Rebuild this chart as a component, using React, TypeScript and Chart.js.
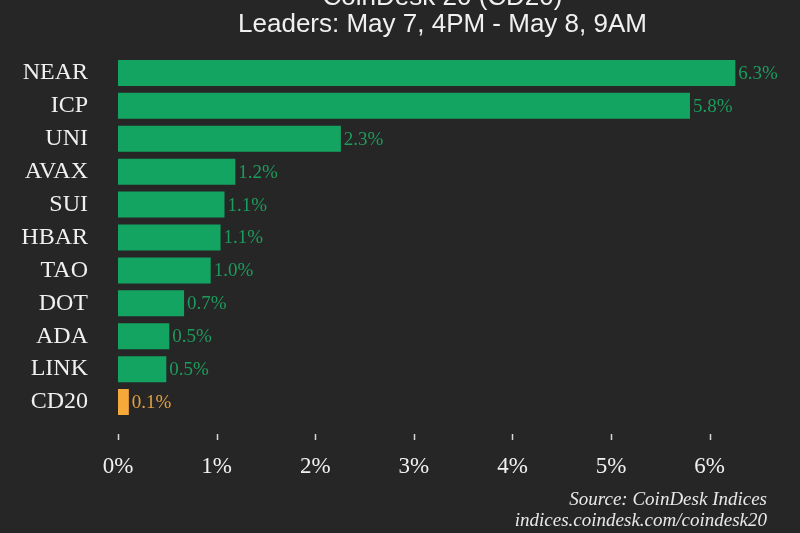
import React, { useEffect, useRef } from "react";
import { Chart, registerables } from "chart.js";

Chart.register(...registerables);

const categories = ["NEAR", "ICP", "UNI", "AVAX", "SUI", "HBAR", "TAO", "DOT", "ADA", "LINK", "CD20"];
const values = [6.26, 5.8, 2.26, 1.19, 1.08, 1.04, 0.94, 0.67, 0.52, 0.49, 0.11];
const valueLabels = ["6.3%", "5.8%", "2.3%", "1.2%", "1.1%", "1.1%", "1.0%", "0.7%", "0.5%", "0.5%", "0.1%"];
const xTicks = [0, 1, 2, 3, 4, 5, 6];
const titleLines = ["CoinDesk 20 (CD20)", "Leaders: May 7, 4PM - May 8, 9AM"];
const sourceLines = ["Source: CoinDesk Indices", "indices.coindesk.com/coindesk20"];

const GREEN = "#13a462";
const ORANGE = "#f7a83b";
const GREEN_TXT = "#1c9c5c";
const ORANGE_TXT = "#e2a040";
const BG = "#262626";
const SERIF = "'Liberation Serif', 'DejaVu Serif', serif";
const SANS = "'Liberation Sans', Arial, sans-serif";

const overlay = {
  id: "overlay",
  beforeDraw(chart: any) {
    const { ctx, width, height } = chart;
    ctx.save();
    ctx.fillStyle = BG;
    ctx.fillRect(0, 0, width, height);
    ctx.restore();
  },
  afterDraw(chart: any) {
    const { ctx, chartArea } = chart;
    ctx.save();
    // title
    ctx.fillStyle = "#f0f0f0";
    ctx.font = `26px ${SANS}`;
    ctx.textAlign = "center";
    ctx.textBaseline = "alphabetic";
    const cx = (chartArea.left + chartArea.right) / 2 + 4;
    ctx.fillText(titleLines[0], cx, 5);
    ctx.fillText(titleLines[1], cx, 32);

    // data labels
    const meta = chart.getDatasetMeta(0);
    ctx.font = `19px ${SERIF}`;
    ctx.textAlign = "left";
    ctx.textBaseline = "middle";
    meta.data.forEach((bar: any, i: number) => {
      ctx.fillStyle = categories[i] === "CD20" ? ORANGE_TXT : GREEN_TXT;
      ctx.fillText(valueLabels[i], bar.x + 3, bar.y + 1);
    });

    // tick marks
    const xs = chart.scales.x;
    ctx.strokeStyle = "#d8d8d8";
    ctx.lineWidth = 1.5;
    xTicks.forEach((t) => {
      const px = Math.round(xs.getPixelForValue(t)) + 0.5;
      ctx.beginPath();
      ctx.moveTo(px, 434);
      ctx.lineTo(px, 440);
      ctx.stroke();
    });

    // source
    ctx.fillStyle = "#e8e8e8";
    ctx.font = `italic 19px ${SERIF}`;
    ctx.textAlign = "right";
    ctx.textBaseline = "alphabetic";
    ctx.fillText(sourceLines[0], 767, 505);
    ctx.fillText(sourceLines[1], 767, 526);
    ctx.restore();
  },
};

export default function App() {
  const ref = useRef<HTMLCanvasElement | null>(null);
  useEffect(() => {
    if (!ref.current) return;
    const chart = new Chart(ref.current, {
      type: "bar",
      data: {
        labels: categories,
        datasets: [
          {
            data: values,
            backgroundColor: categories.map((c) => (c === "CD20" ? ORANGE : GREEN)),
            borderWidth: 0,
            barPercentage: 0.79,
            categoryPercentage: 1,
          },
        ],
      },
      options: {
        indexAxis: "y",
        animation: false,
        responsive: false,
        maintainAspectRatio: false,
        layout: { padding: { top: 56.5, right: 41, bottom: 0, left: 0 } },
        plugins: { legend: { display: false }, tooltip: { enabled: false }, title: { display: false } },
        scales: {
          x: {
            min: 0,
            max: 6.5,
            afterBuildTicks: (s: any) => {
              s.ticks = xTicks.map((v) => ({ value: v }));
            },
            afterFit: (s: any) => {
              s.height = 114.5;
            },
            grid: { display: false, drawTicks: false },
            border: { display: false },
            ticks: {
              color: "#f0f0f0",
              font: { family: SERIF, size: 23 },
              padding: 35,
              callback: (v: any) => `${v}%`,
            },
          },
          y: {
            afterFit: (s: any) => {
              s.width = 118;
            },
            grid: { display: false, drawTicks: false },
            border: { display: false },
            ticks: {
              color: "#f0f0f0",
              font: { family: SERIF, size: 24 },
              padding: 30,
            },
          },
        },
      },
      plugins: [overlay],
    } as any);
    return () => chart.destroy();
  }, []);
  return (
    <div style={{ position: "fixed", left: 0, top: 0, width: 800, height: 533, background: BG }}>
      <canvas ref={ref} width={800} height={533} style={{ width: 800, height: 533, display: "block" }} />
    </div>
  );
}
